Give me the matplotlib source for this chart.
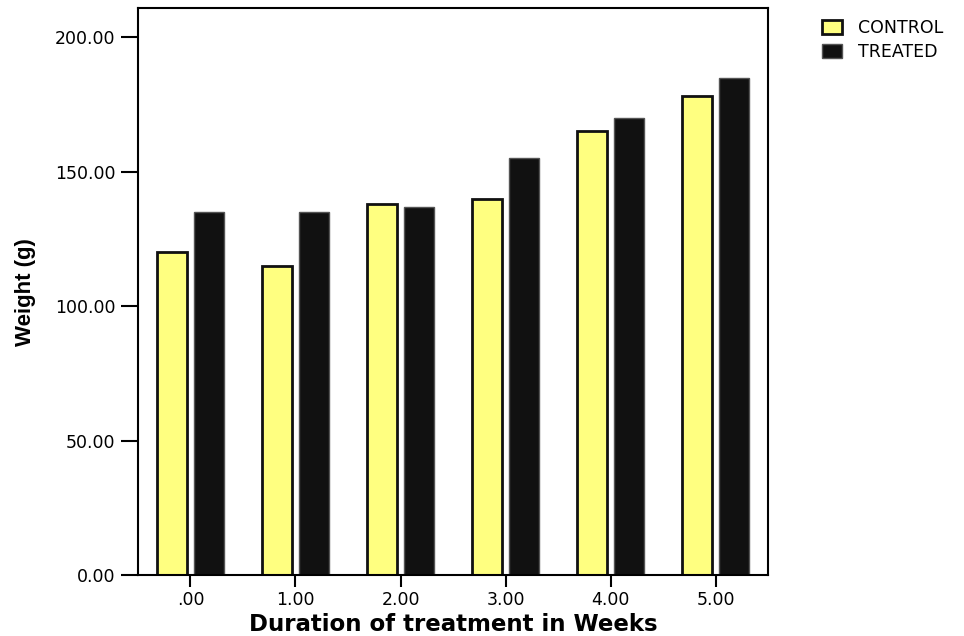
import numpy as np
import matplotlib
matplotlib.use('Agg')
import matplotlib.pyplot as plt
from matplotlib.patches import Patch

# data
weeks = ['.00', '1.00', '2.00', '3.00', '4.00', '5.00']
control = [120, 115, 138, 140, 165, 178]
treated = [135, 135, 137, 155, 170, 185]

plt.rcParams['font.family'] = ['DejaVu Sans']

fig = plt.figure(figsize=(9.64, 6.36), dpi=100)
ax = fig.add_axes([0.143, 0.096, 0.654, 0.891])

x = np.arange(len(weeks))
w = 0.285
ax.bar(x - 0.176, control, w, color='#ffff80', edgecolor='#111111', linewidth=2)
ax.bar(x + 0.176, treated, w, color='#111111', edgecolor='#555555', linewidth=1)

ax.set_xlim(-0.5, 5.5)
ax.set_ylim(0, 210.8)
ax.set_xticks(x)
ax.set_xticklabels(weeks)
ax.set_yticks([0, 50, 100, 150, 200])
ax.set_yticklabels(['0.00', '50.00', '100.00', '150.00', '200.00'])
ax.tick_params(direction='out', width=1.5, labelsize=12.5)
ax.tick_params(axis='y', length=12, pad=4)
ax.tick_params(axis='x', length=8.5, pad=3)
for s in ax.spines.values():
    s.set_linewidth(1.5)

ax.set_xlabel('Duration of treatment in Weeks', fontsize=16.5, fontweight='bold', labelpad=3)
ax.set_ylabel('Weight (g)', fontsize=16, fontweight='bold',
              family='Liberation Sans', labelpad=14)

handles = [Patch(facecolor='#ffff80', edgecolor='#111111', linewidth=2, label='CONTROL'),
           Patch(facecolor='#111111', edgecolor='#555555', label='TREATED')]
fig.legend(handles=handles, loc='upper left', bbox_to_anchor=(0.846, 0.981),
           frameon=False, fontsize=12.5, handlelength=1.15, handleheight=0.9,
           handletextpad=0.9, labelspacing=0.35, borderaxespad=0)

fig.savefig('out.png', dpi=100)
